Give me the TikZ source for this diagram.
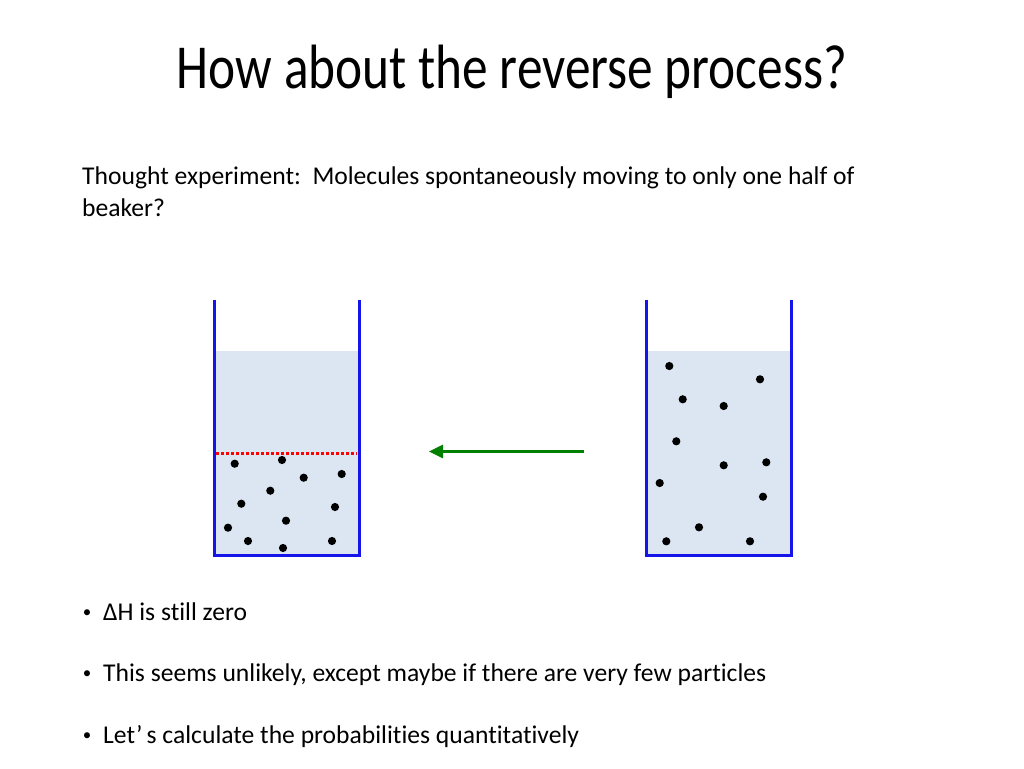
\documentclass[tikz,border=0pt]{standalone}
\usepackage{fontspec}
\setmainfont{Carlito}[RawFeature=-liga]
\newfontfamily\titlefont{Carlito}[FakeStretch=0.82]
\usetikzlibrary{arrows.meta}
\definecolor{water}{RGB}{220,230,242}
\definecolor{wall}{RGB}{20,20,235}
\definecolor{arrowgreen}{RGB}{0,128,0}
\tikzset{
  beakerwall/.style={draw=wall, line width=3pt, line join=miter},
  liquid/.style={fill=water},
  molecule/.style={fill=black},
  halfline/.style={draw=red, line width=3pt, dash pattern=on 2.5pt off 2.5pt},
  bodytext/.style={anchor=base west, inner sep=0pt, font=\fontsize{25.6}{31}\selectfont},
  bulletmark/.style={anchor=base, inner sep=0pt, font=\fontsize{17}{20}\selectfont},
}
\begin{document}
\begin{tikzpicture}[x=1pt,y=-1pt]
\useasboundingbox (0,0) rectangle (1024,768);
\node (title) [anchor=base, inner sep=0pt, font=\titlefont\fontsize{62.6}{75}\selectfont] at (512,88) {How about the reverse process?};
\node (thought) [bodytext] at (82,184) {Thought experiment:\ \ Molecules spontaneously moving to only one half of};
\node (thought2) [bodytext] at (82,216) {beaker?};

\foreach \xl in {214,646}{
  \fill [liquid] (\xl,351) rectangle (\xl+145,555);
  \draw [beakerwall] (\xl,300) -- (\xl,555) -- (\xl+145,555) -- (\xl+145,300);
}
\draw [halfline] (216,453) -- (357,453);

\foreach \mx/\my in {234.7/463.7, 282/460, 303.7/477.7, 341.7/474, 270.3/490.7, 241.3/503.7,
  335/507, 286/520.7, 228/527.7, 248/541, 283/548, 332/541}
  \fill [molecule] (\mx,\my) circle (4.1);

\foreach \mx/\my in {669.3/366, 760/379.3, 682.7/399.3, 723.7/406, 676.3/441.3, 723.7/465.3,
  766.3/462.3, 659.7/483, 763/496.7, 699/527.3, 666.3/541.3, 750/541.3}
  \fill [molecule] (\mx,\my) circle (4.1);

\coordinate (spread) at (584,451.5);
\coordinate (gathered) at (429,451.5);
\draw [arrowgreen, line width=2.8pt, -{Triangle[length=14pt,width=13pt]}] (spread) -- (gathered);

\node (b1) [bulletmark] at (87,617) {\textbullet};
\node (l1) [bodytext] at (103,620) {ΔH is still zero};
\node (b2) [bulletmark] at (87,678) {\textbullet};
\node (l2) [bodytext] at (103,681) {This seems unlikely, except maybe if there are very few particles};
\node (b3) [bulletmark] at (87,740) {\textbullet};
\node (l3) [bodytext] at (103,743) {Let’\,s calculate the probabilities quantitatively};
\end{tikzpicture}
\end{document}
